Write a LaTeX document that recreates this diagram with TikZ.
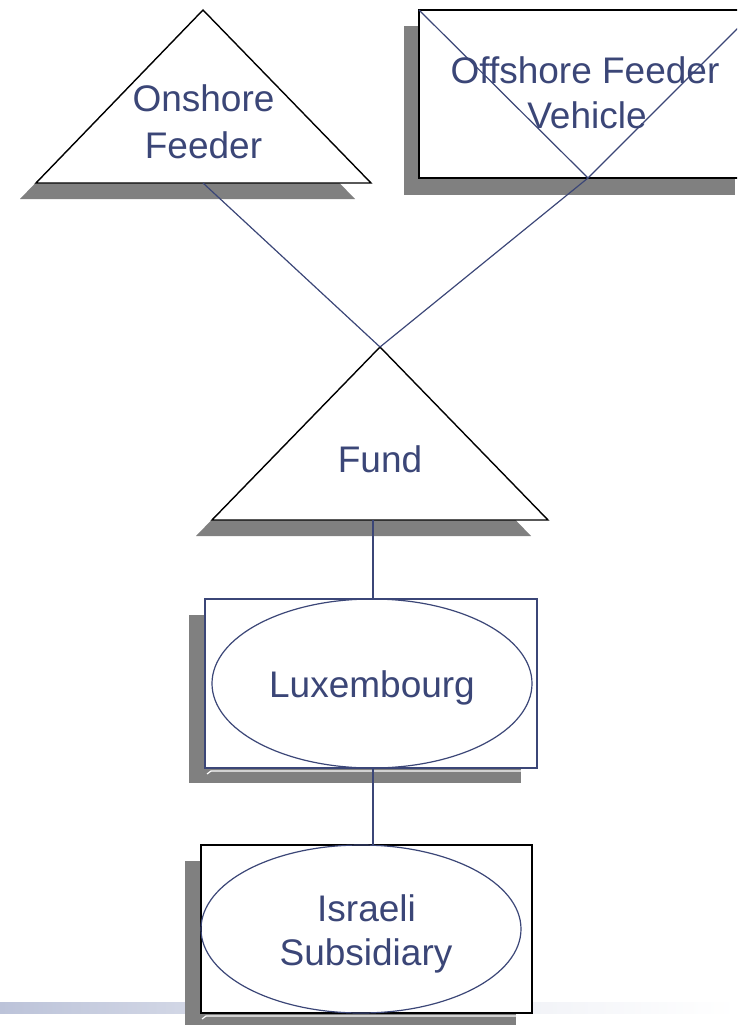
\documentclass[tikz,border=0pt]{standalone}
\usepackage{fontspec}
\setmainfont{Liberation Sans}
\begin{document}
\begin{tikzpicture}[x=1pt,y=-1pt,
  every node/.style={inner sep=0pt,outer sep=0pt},
  shadowfill/.style={fill=shadowgray,draw=none},
  shapeline/.style={fill=white,draw=black,line width=1.4pt,line join=miter},
  navyline/.style={fill=white,draw=navy,line width=1.3pt},
  link/.style={draw=navy,line width=1.2pt},
  lbl/.style={anchor=base,text=navy,font=\fontsize{37}{44}\selectfont}]
\definecolor{navy}{HTML}{3B4677}
\definecolor{shadowgray}{HTML}{808080}
\definecolor{barblue}{HTML}{BCC3D9}
\useasboundingbox (0,0) rectangle (737,1025);
\begin{scope}
\clip (0,0) rectangle (737,1025);

% footer band
\shade[left color=barblue,right color=white,middle color=barblue!35] (0,1002) rectangle (737,1013);

% drop shadows
\fill[shadowfill] (187,26) -- (20,199) -- (355,199) -- cycle;
\fill[shadowfill] (404,26) rectangle (735,195);
\fill[shadowfill] (364,363) -- (196,536) -- (531,536) -- cycle;
\fill[shadowfill] (189,615) rectangle (521,783);
\fill[shadowfill] (185,861) rectangle (516,1025);

% Onshore Feeder
\coordinate (onTop) at (203,10);
\coordinate (onL) at (36,183);
\coordinate (onR) at (371,183);
\coordinate (onBase) at (203,183);
\draw[shapeline] (onTop) -- (onL) -- (onR) -- cycle;

% Offshore Feeder Vehicle
\coordinate (offTL) at (419,10);
\coordinate (offBR) at (760,178);
\coordinate (offV) at (588,178);
\coordinate (offTR) at (756,10);
\draw[shapeline] (offTL) rectangle (offBR);
\draw[link] (offTL) -- (offV) -- (offTR);

% Fund
\coordinate (fundTop) at (380,347);
\coordinate (fundL) at (212,520);
\coordinate (fundR) at (548,520);
\coordinate (fundBase) at (373,520);
\draw[shapeline] (fundTop) -- (fundL) -- (fundR) -- cycle;

% Luxembourg
\coordinate (luxTop) at (373,599);
\coordinate (luxBot) at (373,768);
\draw[navyline] (205,599) rectangle (537,768);
\draw[white,line width=1.2pt] (207,774) -- (211,771) -- (521,771);
\draw[draw=navy,line width=1.2pt] (372,683.5) ellipse (160 and 84.5);

% Israeli Subsidiary
\coordinate (isrTop) at (373,845);
\draw[shapeline] (201,845) rectangle (532,1013);
\draw[white,line width=1.2pt] (202,1019) -- (206,1016) -- (516,1016);
\draw[draw=navy,line width=1.2pt] (361,929) ellipse (160 and 84);

% links between entities
\draw[link] (onBase) -- (fundTop);
\draw[link] (offV) -- (fundTop);
\draw[link] (fundBase) -- (luxTop);
\draw[link] (luxBot) -- (isrTop);

% labels
\node[lbl] (t1) at (203.5,111) {Onshore};
\node[lbl] (t2) at (203.5,158) {Feeder};
\node[lbl] (t3) at (585,83) {Offshore Feeder};
\node[lbl] (t4) at (587,128) {Vehicle};
\node[lbl] (t5) at (380,472) {Fund};
\node[lbl] (t6) at (372,697) {Luxembourg};
\node[lbl] (t7) at (366.5,921) {Israeli};
\node[lbl] (t8) at (366,965) {Subsidiary};
\end{scope}
\end{tikzpicture}
\end{document}
